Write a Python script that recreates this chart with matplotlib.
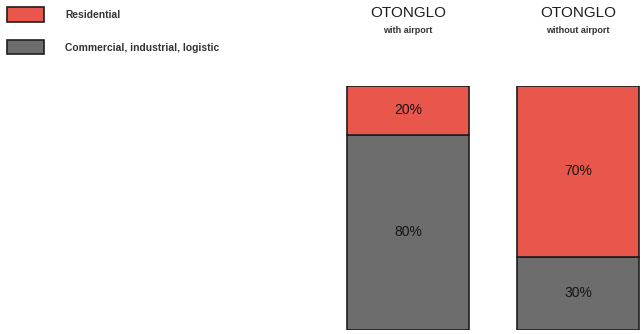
import matplotlib
matplotlib.use("Agg")
import matplotlib.pyplot as plt

plt.rcParams['font.family'] = ['Liberation Sans', 'DejaVu Sans']

scenarios = ["OTONGLO", "OTONGLO"]
subtitles = ["with airport", "without airport"]
commercial = [80, 30]
residential = [20, 70]
series_names = ["Residential", "Commercial, industrial, logistic"]

RED = "#e8564c"
GREY = "#6d6d6d"
EDGE = "#1e1e1e"

fig = plt.figure(figsize=(6.44, 3.34), dpi=100)
W, H = 644, 334
ax = fig.add_axes([330 / W, 4 / H, 314 / W, 244 / H])

x = list(range(len(scenarios)))
b_com = ax.bar(x, commercial, width=0.72, color=GREY, edgecolor=EDGE, linewidth=1.2)
b_res = ax.bar(x, residential, width=0.72, bottom=commercial, color=RED,
               edgecolor=EDGE, linewidth=1.2)

for i in x:
    ax.text(i, commercial[i] / 2, f"{commercial[i]}%", ha="center", va="center",
            fontsize=10, color="#151515")
    ax.text(i, commercial[i] + residential[i] / 2, f"{residential[i]}%", ha="center",
            va="center", fontsize=10, color="#151515")
    ax.text(i, 129.9, scenarios[i], ha="center", va="center", fontsize=11,
            color="#1e1e1e", clip_on=False)
    ax.text(i, 122.9, subtitles[i], ha="center", va="center", fontsize=6.5,
            fontweight="bold", color="#333333", clip_on=False)

ax.set_xlim(-0.4588, -0.4588 + 314 / 170)
ax.set_ylim(0, 100)
ax.axis("off")

leg = fig.legend([b_res[0], b_com[0]], series_names, loc="upper left",
                 bbox_to_anchor=(0.0, 1.0), frameon=False,
                 prop={"size": 7.4, "weight": "bold"},
                 handlelength=3.6, handleheight=1.75, handletextpad=2.05,
                 labelspacing=1.8, borderaxespad=0.3, borderpad=0.42)
for t in leg.get_texts():
    t.set_color("#333333")

fig.savefig("out.png", dpi=100)
